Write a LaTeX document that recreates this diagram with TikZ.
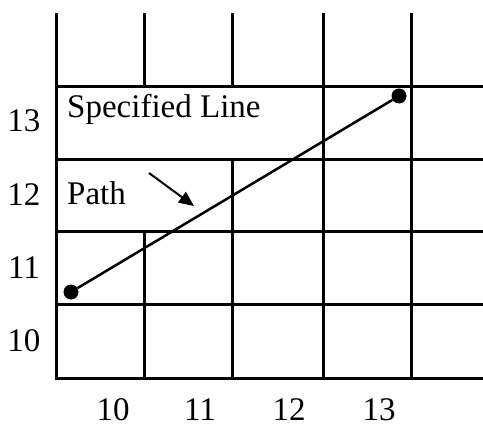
\documentclass[tikz,border=0pt]{standalone}
\usepackage{fontspec}
\setmainfont{Liberation Serif}
\usetikzlibrary{arrows.meta}
\tikzset{
  gridline/.style={line width=3pt},
  pathline/.style={line width=2.5pt},
  dot/.style={circle,fill=black,inner sep=0pt,minimum size=15pt},
  lbl/.style={inner sep=0pt,font=\fontsize{33}{35}\selectfont},
  xlbl/.style={lbl,text depth=0pt,anchor=base},
  pointer/.style={line width=2pt,-{Triangle[length=15pt,width=13pt]}}
}
\begin{document}
\begin{tikzpicture}[x=1pt,y=-1pt]
\useasboundingbox (0,0) rectangle (483,428);
% horizontal grid lines
\foreach \yy in {86.3,159.3,231.3,304.7,378}
  \draw[gridline] (56,\yy) -- (484,\yy);
% vertical grid lines
\draw[gridline] (56,12.7) -- (56,379.5);
\draw[gridline] (144.3,12.7) -- (144.3,86.3);
\draw[gridline] (144.3,231.3) -- (144.3,378);
\draw[gridline] (232,12.7) -- (232,86.3);
\draw[gridline] (232,159.3) -- (232,378);
\draw[gridline] (323.3,12.7) -- (323.3,378);
\draw[gridline] (411.3,12.7) -- (411.3,378);
% texts
\node[lbl,anchor=base west] (spec) at (67,118) {Specified Line};
\node[lbl,anchor=base west] (path) at (67,205) {Path};
\node[lbl,anchor=base] (y13) at (24,132) {13};
\node[lbl,anchor=base] (y12) at (24,206) {12};
\node[lbl,anchor=base] (y11) at (24,278) {11};
\node[lbl,anchor=base] (y10) at (24,351) {10};
\node[xlbl] (x10) at (113,420) {10};
\node[xlbl] (x11) at (200,420) {11};
\node[xlbl] (x12) at (289,420) {12};
\node[xlbl] (x13) at (379,420) {13};
% specified line
\node[dot] (p1) at (71,292) {};
\node[dot] (p2) at (399,96) {};
\draw[pathline] (p1) -- (p2);
% pointer arrow
\coordinate (a1) at (149,173);
\coordinate (a2) at (194,206);
\draw[pointer] (a1) -- (a2);
\end{tikzpicture}
\end{document}
